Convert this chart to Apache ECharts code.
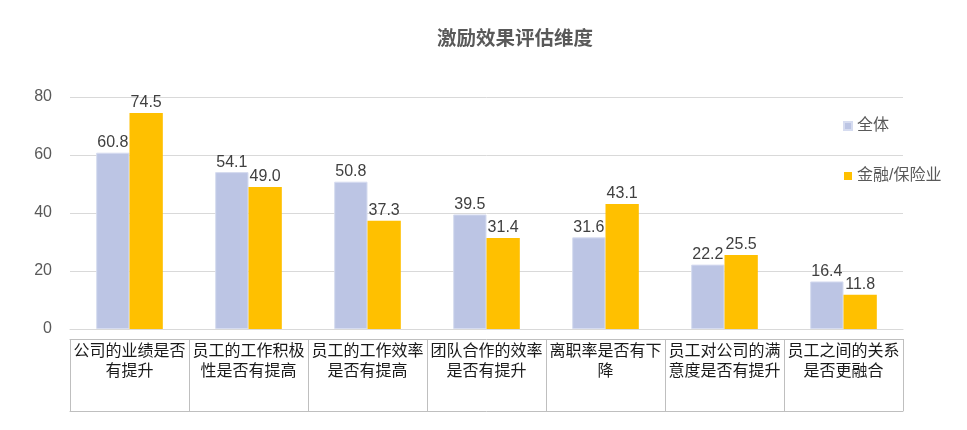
<!DOCTYPE html>
<html>
<head>
<meta charset="utf-8">
<script src="https://cdn.jsdelivr.net/npm/echarts@6/dist/echarts.min.js"></script>
<style>
  html, body { margin: 0; padding: 0; background: #fff; }
  #main { width: 967px; height: 430px; }
</style>
</head>
<body>
<div id="main"></div>
<script>
const categories = ['公司的业绩是否有提升', '员工的工作积极性是否有提高', '员工的工作效率是否有提高', '团队合作的效率是否有提升', '离职率是否有下降', '员工对公司的满意度是否有提升', '员工之间的关系是否更融合'];
const seriesNames = ['全体', '金融/保险业'];
const allValues = [60.8, 54.1, 50.8, 39.5, 31.6, 22.2, 16.4];
const financeValues = [74.5, 49.0, 37.3, 31.4, 43.1, 25.5, 11.8];
const yTicks = [0, 20, 40, 60, 80];

const font = '"Liberation Sans", "Noto Sans CJK SC", sans-serif';
const chart = echarts.init(document.getElementById('main'));

function wrap(name) {
  // 每7个字换行
  let out = [];
  for (let i = 0; i < name.length; i += 7) out.push(name.slice(i, i + 7));
  return out.join('\n');
}

const barLabel = {
  show: true,
  position: 'top',
  distance: 2,
  fontSize: 16,
  color: '#404040',
  fontFamily: font,
  formatter: p => p.value.toFixed(1)
};

const option = {
  animation: false,
  color: ['#BCC5E4', '#FFC000'],
  textStyle: { fontFamily: font },
  title: {
    text: '激励效果评估维度',
    left: 510,
    textAlign: 'center',
    top: 25,
    textStyle: { fontSize: 19.5, fontWeight: 'bold', color: '#595959', fontFamily: font }
  },
  legend: {
    orient: 'vertical',
    left: 838,
    top: 113,
    itemGap: 34,
    itemWidth: 8,
    itemHeight: 8,
    icon: 'rect',
    textStyle: { fontSize: 16, color: '#595959', fontFamily: font },
    data: seriesNames
  },
  grid: { left: 70, right: 64, top: 97, bottom: 101 },
  xAxis: [
    {
      type: 'category',
      data: categories,
      axisLine: { lineStyle: { color: '#D9D9D9' } },
      axisTick: { show: false },
      axisLabel: { show: false }
    },
    {
      type: 'category',
      data: categories,
      position: 'bottom',
      offset: 10,
      axisLine: { lineStyle: { color: '#BFBFBF' } },
      axisTick: { show: true, length: 72, lineStyle: { color: '#BFBFBF' } },
      axisLabel: {
        interval: 0,
        margin: 3,
        fontSize: 16,
        lineHeight: 20,
        color: '#1a1a1a',
        fontFamily: font,
        formatter: wrap
      }
    },
    {
      type: 'category',
      data: categories,
      position: 'bottom',
      offset: 82,
      axisLine: { lineStyle: { color: '#BFBFBF' } },
      axisTick: { show: false },
      axisLabel: { show: false }
    }
  ],
  yAxis: {
    type: 'value',
    min: yTicks[0],
    max: yTicks[yTicks.length - 1],
    interval: 20,
    axisLine: { show: false },
    axisTick: { show: false },
    splitLine: { lineStyle: { color: '#D9D9D9' } },
    axisLabel: { fontSize: 16, color: '#595959', margin: 18, fontFamily: font }
  },
  series: [
    {
      name: seriesNames[0],
      type: 'bar',
      data: allValues,
      barWidth: '28%',
      barGap: '0%',
      itemStyle: { borderColor: '#D6DCF0', borderWidth: 1 },
      label: barLabel
    },
    {
      name: seriesNames[1],
      type: 'bar',
      data: financeValues,
      barWidth: '28%',
      barGap: '0%',
      label: barLabel
    }
  ]
};

chart.setOption(option);
</script>
</body>
</html>
